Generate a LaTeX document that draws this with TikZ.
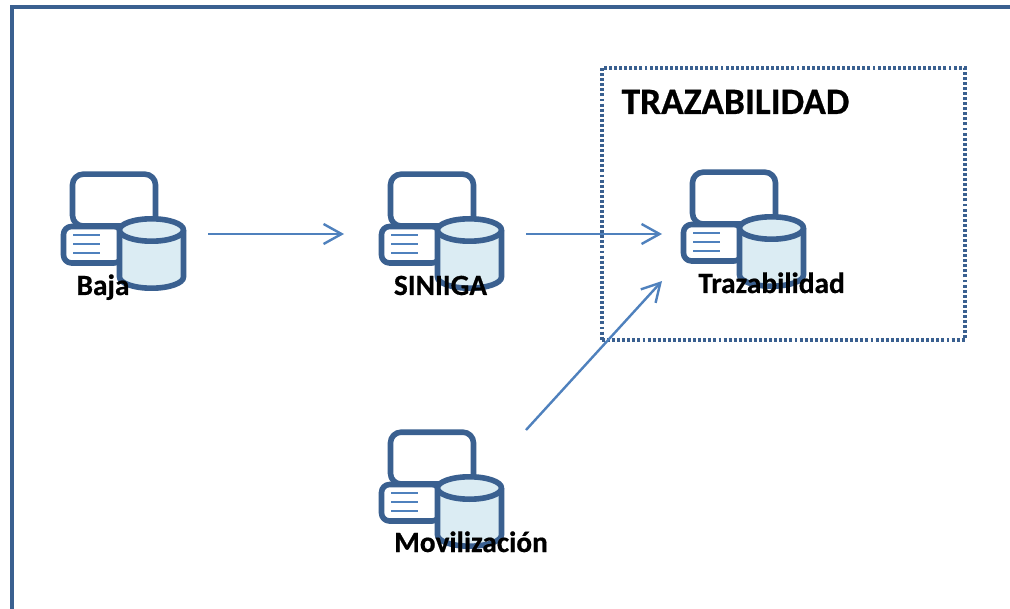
\documentclass[tikz,border=0pt]{standalone}
\usepackage{fontspec}
\setmainfont{Carlito}[BoldFeatures={FakeBold=0.5}]
\usetikzlibrary{arrows.meta}
\definecolor{dkblue}{HTML}{3A6090}
\definecolor{midblue}{HTML}{4F81BD}
\definecolor{paleblue}{HTML}{DBECF3}
\tikzset{
  x=0.75pt,y=-0.75pt,
  iconline/.style={draw=dkblue,line width=4.2pt,line join=round},
  flow/.style={draw=midblue,line width=1.8pt,-{Straight Barb[length=13.5pt,width=15pt,line width=1.8pt]}},
  lbl/.style={font=\bfseries\fontsize{22pt}{24pt}\selectfont,text=black,anchor=base,inner sep=0pt},
  ttl/.style={font=\bfseries\fontsize{28pt}{30pt}\selectfont,text=black,anchor=base,inner sep=0pt},
  framebox/.style={draw=dkblue,line width=2.4pt,dash pattern=on 2.2pt off 1.6pt},
  pics/dbicon/.style={code={
    \draw[iconline,fill=white,rounded corners=8pt] (72.5,174.2) rectangle (155.5,226);
    \draw[iconline,fill=white,rounded corners=6pt] (63.5,226.5) rectangle (122,263);
    \draw[draw=midblue,line width=1.6pt] (73,235) -- (100,235) (73,244) -- (100,244) (73,253) -- (100,253);
    \draw[iconline,fill=paleblue] (119.5,230) -- (119.5,277) arc[start angle=180,end angle=0,x radius=32,y radius=11.2] -- (183.5,230);
    \draw[iconline,fill=paleblue] (151.5,230) ellipse[x radius=32,y radius=11.2];
  }}
}
\begin{document}
\begin{tikzpicture}
\useasboundingbox (0,0) rectangle (1010,609);
\fill[white] (0,0) rectangle (1010,609);
\coordinate (fa) at (12,609);
\coordinate (fb) at (12,7);
\coordinate (fc) at (1010,7);
\draw[draw=dkblue,line width=3.2pt,line join=miter] (fa) -- (fb) -- (fc);
\node[framebox,minimum width=272.25pt,minimum height=204pt,anchor=north west,inner sep=0pt,outer sep=0pt] (zone) at (602,68) {};
\pic at (0,0) {dbicon};
\pic at (318,0) {dbicon};
\pic at (620,-2) {dbicon};
\pic at (318,258) {dbicon};
\coordinate (a1) at (208,234);
\coordinate (b1) at (344,234);
\coordinate (a2) at (526,234);
\coordinate (b2) at (662,234);
\coordinate (a3) at (526,430);
\coordinate (b3) at (662,281);
\draw[flow] (a1) -- (b1);
\draw[flow] (a2) -- (b2);
\draw[flow] (a3) -- (b3);
\node[ttl] (title) at (735.5,114) {TRAZABILIDAD};
\node[lbl] (baja) at (103,295) {Baja};
\node[lbl] (siniiga) at (440.5,295) {SINIIGA};
\node[lbl] (traz) at (771.5,293) {Trazabilidad};
\node[lbl] (movi) at (471,552) {Movilización};
\end{tikzpicture}
\end{document}
